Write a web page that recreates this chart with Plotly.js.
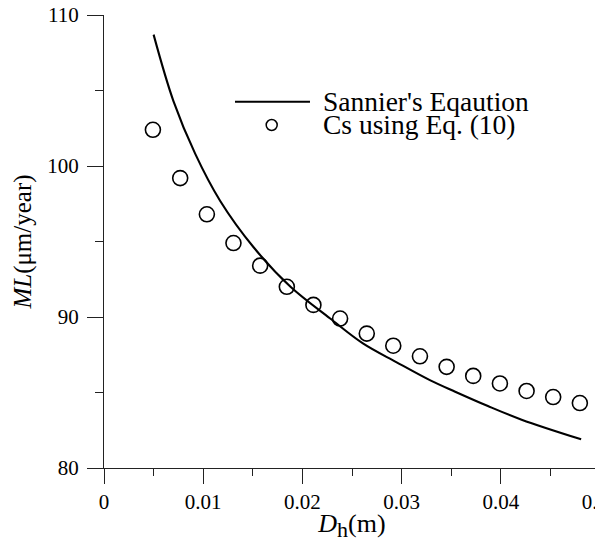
<!DOCTYPE html>
<html>
<head>
<meta charset="utf-8">
<script src="https://cdn.plot.ly/plotly-3.0.1.min.js"></script>
<style>
html, body { margin: 0; padding: 0; overflow: hidden; background: #fff; }
#chart { width: 620px; height: 542px; }
</style>
</head>
<body>
<div id="chart"></div>
<script>
// Sannier's equation curve
const dhCurve = [0.0050, 0.0070, 0.0092, 0.0117, 0.0151, 0.0188, 0.0228, 0.0261, 0.0295, 0.0329, 0.0354, 0.0387, 0.0421, 0.0481];
const mlCurve = [108.7, 104.3, 100.8, 97.7, 94.6, 92.0, 89.9, 88.25, 87.0, 85.8, 85.05, 84.1, 83.2, 81.9];

// Cs using Eq. (10)
const dhPoints = [0.00493, 0.00768, 0.01037, 0.01305, 0.01574, 0.01843, 0.02111, 0.02380, 0.02649, 0.02916, 0.03185, 0.03454, 0.03722, 0.03991, 0.04260, 0.04528, 0.04797];
const mlPoints = [102.4, 99.2, 96.8, 94.9, 93.4, 92.0, 90.8, 89.9, 88.9, 88.1, 87.4, 86.7, 86.1, 85.6, 85.1, 84.7, 84.3];

const legendLabels = ["Sannier's Eqaution", "Cs using Eq. (10)"];
const xTickVals = [0, 0.01, 0.02, 0.03, 0.04, 0.05];
const xTickText = ["0", "0.01", "0.02", "0.03", "0.04", "0.05"];
const yTickVals = [80, 90, 100, 110];

const FONT = "Liberation Serif, Times New Roman, serif";

const traces = [
  {
    x: dhCurve, y: mlCurve, type: 'scatter', mode: 'lines',
    name: legendLabels[0], showlegend: false,
    line: { color: '#000', width: 2.1, shape: 'spline', smoothing: 1.0 }
  },
  {
    x: dhPoints, y: mlPoints, type: 'scatter', mode: 'markers',
    name: legendLabels[1], showlegend: false,
    marker: { symbol: 'circle-open', size: 15, color: '#000', line: { color: '#000', width: 1.6 } }
  }
];

const layout = {
  width: 620, height: 542,
  margin: { l: 104, r: 20, t: 15, b: 74 },
  paper_bgcolor: '#fff', plot_bgcolor: '#fff',
  font: { family: FONT, color: '#000', size: 21 },
  showlegend: false,
  xaxis: {
    range: [0, 0.05], tickvals: xTickVals, ticktext: xTickText,
    ticks: 'outside', ticklen: 15, tickwidth: 1, tickcolor: '#222',
    minor: { dtick: 0.005, ticks: 'outside', ticklen: 7, tickwidth: 1, tickcolor: '#222' },
    showline: true, linecolor: '#222', linewidth: 1,
    showgrid: false, zeroline: false,
    tickfont: { family: FONT, size: 21, color: '#000' },
    title: { text: '<i>D</i><sub><span style="font-size:22px">h</span></sub>(m)', font: { family: FONT, size: 26, color: '#000' }, standoff: 2 }
  },
  yaxis: {
    range: [80, 110], tickvals: yTickVals,
    ticks: 'outside', ticklen: 16, tickwidth: 1, tickcolor: '#222',
    ticklabelstandoff: 4,
    minor: { dtick: 5, ticks: 'outside', ticklen: 8, tickwidth: 1, tickcolor: '#222' },
    showline: true, linecolor: '#222', linewidth: 1,
    showgrid: false, zeroline: false,
    tickfont: { family: FONT, size: 21, color: '#000' },
    title: { text: '<i>ML</i>(μm/year)', font: { family: FONT, size: 25, color: '#000' }, standoff: 8 }
  },
  shapes: [
    { type: 'line', xref: 'paper', yref: 'paper', x0: 0.2641, x1: 0.4153, y0: 0.8086, y1: 0.8086,
      line: { color: '#000', width: 2.1 } },
    { type: 'circle', xref: 'paper', yref: 'paper', xsizemode: 'pixel', ysizemode: 'pixel',
      xanchor: 0.3381, yanchor: 0.7572, x0: -5.5, x1: 5.5, y0: -5.5, y1: 5.5,
      line: { color: '#000', width: 1.5 }, fillcolor: 'rgba(0,0,0,0)' }
  ],
  annotations: [
    { xref: 'paper', yref: 'paper', x: 0.4375, y: 0.8086, xanchor: 'left', yanchor: 'middle',
      text: legendLabels[0], showarrow: false, font: { family: FONT, size: 27.5, color: '#000' } },
    { xref: 'paper', yref: 'paper', x: 0.4375, y: 0.7572, xanchor: 'left', yanchor: 'middle',
      text: legendLabels[1], showarrow: false, font: { family: FONT, size: 27.5, color: '#000' } }
  ]
};

Plotly.newPlot('chart', traces, layout, { displayModeBar: false, staticPlot: true });
</script>
</body>
</html>
